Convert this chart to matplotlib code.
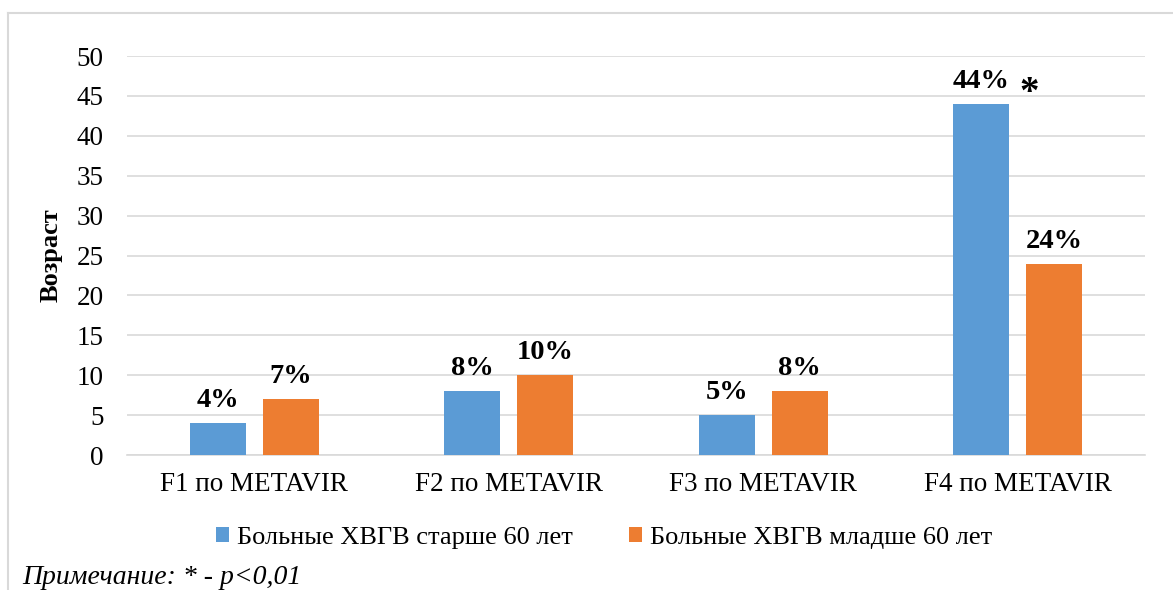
import matplotlib
matplotlib.use("Agg")
import matplotlib.pyplot as plt
from matplotlib.lines import Line2D
import numpy as np

categories = ["F1 по METAVIR", "F2 по METAVIR", "F3 по METAVIR", "F4 по METAVIR"]
older = [4, 8, 5, 44]
younger = [7, 10, 8, 24]
series_names = ["Больные ХВГВ старше 60 лет", "Больные ХВГВ младше 60 лет"]
yticks = [0, 5, 10, 15, 20, 25, 30, 35, 40, 45, 50]

plt.rcParams["font.family"] = ["Liberation Serif", "DejaVu Serif"]

fig = plt.figure(figsize=(11.73, 5.90), dpi=100)
ax = fig.add_axes([0.1083, 0.2288, 0.8677, 0.6762])

x = np.arange(len(categories))
w = 0.22
off = 0.143
b1 = ax.bar(x - off, older, w, color="#5B9BD5", label=series_names[0], zorder=3)
b2 = ax.bar(x + off, younger, w, color="#ED7D31", label=series_names[1], zorder=3)

for rects, vals in ((b1, older), (b2, younger)):
    for r, v in zip(rects, vals):
        ax.annotate(f"{v}%", (r.get_x() + r.get_width() / 2, v),
                    xytext=(0, 7), textcoords="offset points",
                    ha="center", va="bottom", fontsize=20.5, fontweight="bold")

# significance mark next to the F4 label
ax.annotate("*", (x[3] + 0.045, older[3]), xytext=(0, -6), textcoords="offset points",
            ha="center", va="bottom", fontsize=28, fontweight="bold")

ax.set_xlim(-0.5, len(categories) - 0.5)
ax.set_ylim(0, 50)
ax.set_yticks(yticks)
ax.set_xticks(x)
ax.set_xticklabels(categories)
ax.tick_params(axis="both", length=0, labelsize=19.5)
ax.tick_params(axis="y", pad=17)
ax.tick_params(axis="x", pad=12)
ax.grid(axis="y", color="#d9d9d9", linewidth=1.2, zorder=0)
for s in ("top", "right", "left"):
    ax.spines[s].set_visible(False)
ax.spines["bottom"].set_color("#d9d9d9")
ax.spines["bottom"].set_linewidth(1.2)
ax.set_ylabel("Возраст", fontsize=19, fontweight="bold", labelpad=10)

fig.legend(loc="center", bbox_to_anchor=(0.515, 0.088), ncol=2, frameon=False,
           fontsize=19, handlelength=0.5, handleheight=0.5, handletextpad=0.3,
           columnspacing=2.1)

fig.text(22 / 1173, 1 - 577 / 590, "Примечание: * - p<0,01", fontsize=20,
         fontstyle="italic", ha="left", va="center")

# outer frame
fig.add_artist(Line2D([7.5 / 1173, 7.5 / 1173], [0, 1 - 12.5 / 590],
                      transform=fig.transFigure, color="#d9d9d9", linewidth=1.5))
fig.add_artist(Line2D([7.5 / 1173, 1], [1 - 12.5 / 590, 1 - 12.5 / 590],
                      transform=fig.transFigure, color="#d9d9d9", linewidth=1.5))

fig.savefig("out.png", dpi=100)
